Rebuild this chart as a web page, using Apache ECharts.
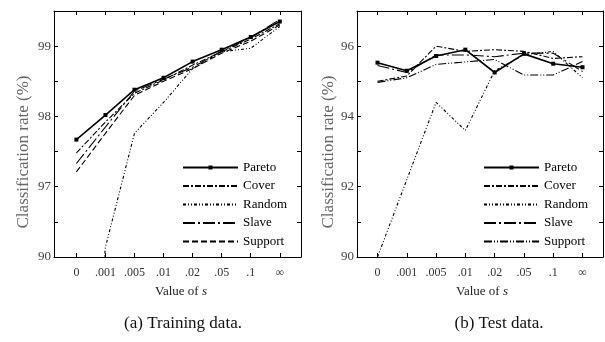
<!DOCTYPE html>
<html><head><meta charset="utf-8">
<script src="https://cdn.jsdelivr.net/npm/echarts@6/dist/echarts.min.js"></script>
<style>html,body{margin:0;padding:0;background:#fff}#c{width:605px;height:342px}</style>
</head><body><div id="c"></div>
<script>
const categories = ['0', '.001', '.005', '.01', '.02', '.05', '.1', '\u221e'];
const seriesNames = ['Pareto', 'Cover', 'Random', 'Slave', 'Support'];
// Training axis is broken: the bottom tick (96 on the drawn scale) is labelled "90"
const trainTickValues = [96, 97, 98, 99];
const trainTickLabels = ['90', '97', '98', '99'];
const testTickValues = [90, 92, 94, 96];
const testTickLabels = ['90', '92', '94', '96'];

// (a) Training data (values on the drawn scale)
const trainPareto  = [97.67, 98.02, 98.38, 98.55, 98.78, 98.95, 99.13, 99.35];
const trainCover   = [97.48, 97.92, 98.33, 98.52, 98.73, 98.92, 99.10, 99.32];
const trainRandom  = [92.00, 96.14, 97.76, 98.20, 98.68, 98.92, 98.97, 99.28];
const trainSlave   = [97.33, 97.85, 98.36, 98.53, 98.70, 98.93, 99.12, 99.38];
const trainSupport = [97.21, 97.76, 98.30, 98.50, 98.68, 98.90, 99.07, 99.30];

// (b) Test data
const testPareto  = [95.53, 95.30, 95.72, 95.90, 95.25, 95.78, 95.50, 95.40];
const testCover   = [95.00, 95.15, 96.00, 95.85, 95.90, 95.85, 95.65, 95.70];
const testRandom  = [90.00, 92.20, 94.40, 93.60, 95.30, 95.75, 95.85, 95.10];
const testSlave   = [95.45, 95.25, 95.75, 95.75, 95.70, 95.80, 95.80, 95.28];
const testSupport = [94.97, 95.10, 95.48, 95.55, 95.62, 95.18, 95.18, 95.56];

const serif = 'Liberation Serif';
const dashes = {
  Pareto: 'solid',
  Cover: [6, 2, 2, 2],
  Random: [3, 2, 1, 2, 1, 2],
  Slave: [12, 3, 2, 3],
  SupportA: [6, 3],
  SupportB: [8, 2, 1, 2, 1, 2]
};

function mkSeries(prefix, name, values, xi, yi, dash) {
  const isP = name === 'Pareto';
  return {
    name: prefix + name,
    type: 'line',
    xAxisIndex: xi, yAxisIndex: yi,
    data: values.map((v, i) => [i, v]),
    symbol: isP ? 'rect' : 'none',
    symbolSize: 4,
    showSymbol: isP,
    itemStyle: { color: '#000' },
    lineStyle: { color: '#000', width: isP ? 1.6 : 1.1, type: dash },
    clip: true,
    animation: false,
    z: isP ? 3 : 2
  };
}

const idx = [0, 1, 2, 3, 4, 5, 6, 7];
function xAx(grid, pos, min, max, labels) {
  return {
    type: 'value', gridIndex: grid, position: pos, min: min, max: max,
    axisLine: { show: true, onZero: false, lineStyle: { color: '#000', width: 1 } },
    axisTick: { show: true, inside: true, length: 4, customValues: idx, lineStyle: { color: '#000' } },
    axisLabel: labels ? {
      show: true, customValues: idx, margin: 10,
      formatter: v => categories[Math.round(v)],
      fontFamily: serif, fontSize: 12, color: '#333'
    } : { show: false },
    splitLine: { show: false }
  };
}
function yAx(grid, pos, min, max, interval, tv, tl) {
  return {
    type: 'value', gridIndex: grid, position: pos, min: min, max: max, interval: interval,
    axisLine: { show: true, onZero: false, lineStyle: { color: '#000', width: 1 } },
    axisTick: { show: true, inside: true, length: 4, lineStyle: { color: '#000' } },
    axisLabel: tv ? {
      show: true, customValues: tv, margin: 3,
      formatter: v => tl[tv.indexOf(v)],
      fontFamily: serif, fontSize: 13, color: '#444'
    } : { show: false },
    splitLine: { show: false }
  };
}

function legendData(prefix) {
  return seriesNames.map(n => n === 'Pareto'
    ? { name: prefix + n }
    : { name: prefix + n, itemStyle: { opacity: 0 } });
}

const legendBase = {
  orient: 'vertical', itemWidth: 55, itemHeight: 5, itemGap: 5.5, top: 156,
  textStyle: { fontFamily: serif, fontSize: 13, color: '#000', lineHeight: 12 },
  formatter: n => n.replace(/^[ab]:/, ''),
  selectedMode: false
};

const option = {
  backgroundColor: '#fff',
  animation: false,
  grid: [
    { left: 54, top: 11, width: 247, height: 246 },
    { left: 357, top: 11, width: 246, height: 246 }
  ],
  xAxis: [
    xAx(0, 'bottom', -0.77, 7.73, true),
    xAx(0, 'top', -0.77, 7.73, false),
    xAx(1, 'bottom', -0.7, 7.7, true),
    xAx(1, 'top', -0.7, 7.7, false)
  ],
  yAxis: [
    yAx(0, 'left', 96, 99.5, 0.5, trainTickValues, trainTickLabels),
    yAx(0, 'right', 96, 99.5, 0.5, null, null),
    yAx(1, 'left', 90, 97, 1, testTickValues, testTickLabels),
    yAx(1, 'right', 90, 97, 1, null, null)
  ],
  legend: [
    Object.assign({}, legendBase, { left: 177, data: legendData('a:') }),
    Object.assign({}, legendBase, { left: 478, data: legendData('b:') })
  ],
  series: [
    mkSeries('a:', 'Pareto', trainPareto, 0, 0, dashes.Pareto),
    mkSeries('a:', 'Cover', trainCover, 0, 0, dashes.Cover),
    mkSeries('a:', 'Random', trainRandom, 0, 0, dashes.Random),
    mkSeries('a:', 'Slave', trainSlave, 0, 0, dashes.Slave),
    mkSeries('a:', 'Support', trainSupport, 0, 0, dashes.SupportA),
    mkSeries('b:', 'Pareto', testPareto, 2, 2, dashes.Pareto),
    mkSeries('b:', 'Cover', testCover, 2, 2, dashes.Cover),
    mkSeries('b:', 'Random', testRandom, 2, 2, dashes.Random),
    mkSeries('b:', 'Slave', testSlave, 2, 2, dashes.Slave),
    mkSeries('b:', 'Support', testSupport, 2, 2, dashes.SupportB)
  ],
  graphic: [
    { type: 'text', x: 24, y: 152, rotation: Math.PI / 2,
      style: { text: 'Classification rate (%)', font: '17px "Liberation Serif"', fill: '#666', align: 'center', verticalAlign: 'middle' } },
    { type: 'text', x: 329, y: 152, rotation: Math.PI / 2,
      style: { text: 'Classification rate (%)', font: '17px "Liberation Serif"', fill: '#666', align: 'center', verticalAlign: 'middle' } },
    { type: 'text', x: 181, y: 292,
      style: { text: 'Value of {i|s}', font: '13px "Liberation Serif"', fill: '#222', align: 'center', verticalAlign: 'middle',
        rich: { i: { fontStyle: 'italic', fontFamily: serif, fontSize: 13, fill: '#222' } } } },
    { type: 'text', x: 482, y: 292,
      style: { text: 'Value of {i|s}', font: '13px "Liberation Serif"', fill: '#222', align: 'center', verticalAlign: 'middle',
        rich: { i: { fontStyle: 'italic', fontFamily: serif, fontSize: 13, fill: '#222' } } } },
    { type: 'text', x: 183, y: 324,
      style: { text: '(a) Training data.', font: '17px "Liberation Serif"', fill: '#111', align: 'center', verticalAlign: 'middle' } },
    { type: 'text', x: 499, y: 324,
      style: { text: '(b) Test data.', font: '17px "Liberation Serif"', fill: '#111', align: 'center', verticalAlign: 'middle' } }
  ]
};

const chart = echarts.init(document.getElementById('c'), null, { renderer: 'canvas' });
chart.setOption(option);
</script></body></html>
